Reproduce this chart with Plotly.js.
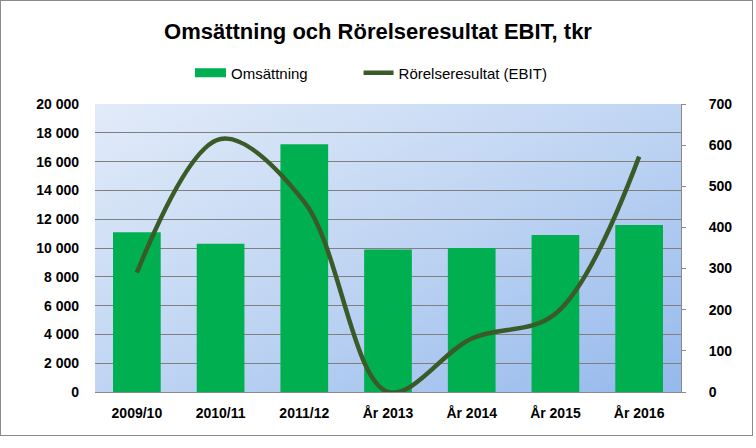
<!DOCTYPE html>
<html>
<head>
<meta charset="utf-8">
<script src="https://cdn.plot.ly/plotly-3.0.1.min.js"></script>
<style>
html,body{margin:0;padding:0;background:#fff;}
#wrap{position:relative;width:756px;height:448px;}
#chart{width:756px;height:448px;}
#frame{position:absolute;left:0;top:0;width:753px;height:436px;border:1px solid #8a8a8a;box-sizing:border-box;pointer-events:none;}
</style>
</head>
<body>
<div id="wrap"><div id="chart"></div><div id="frame"></div></div>
<script>
var categories = ["2009/10", "2010/11", "2011/12", "År 2013", "År 2014", "År 2015", "År 2016"];
var omsattning = [11100, 10300, 17200, 9900, 10000, 10900, 11600];
var ebit = [290, 615, 462, 0, 130, 190, 572];
var leftTicks = [0, 2000, 4000, 6000, 8000, 10000, 12000, 14000, 16000, 18000, 20000];
var rightTicks = [0, 100, 200, 300, 400, 500, 600, 700];

var FONT = '"Liberation Sans", Arial, sans-serif';
var PAD = '\u00a0\u00a0\u00a0\u00a0\u00a0\u00a0\u00a0\u00a0\u00a0\u00a0\u00a0';

var grad = 'data:image/svg+xml;charset=utf-8,' + encodeURIComponent(
  '<svg xmlns="http://www.w3.org/2000/svg" width="100" height="100" preserveAspectRatio="none">' +
  '<defs><linearGradient id="g" x1="0" y1="0" x2="1" y2="1">' +
  '<stop offset="0" stop-color="#e2ebf9"/><stop offset="0.5" stop-color="#c0d5f3"/><stop offset="1" stop-color="#95b9ec"/>' +
  '</linearGradient></defs><rect width="100" height="100" fill="url(#g)"/></svg>');

var traces = [
  {
    type: 'bar', name: 'Omsättning' + PAD, x: categories, y: omsattning,
    marker: {color: '#00b050'}, yaxis: 'y'
  },
  {
    type: 'scatter', mode: 'lines', name: 'Rörelseresultat (EBIT)', x: categories, y: ebit,
    line: {color: '#3a5a28', width: 4.5, shape: 'spline', smoothing: 1}, yaxis: 'y2'
  }
];

var layout = {
  width: 756, height: 448,
  margin: {l: 95, r: 75, t: 104, b: 56},
  paper_bgcolor: 'rgba(0,0,0,0)',
  plot_bgcolor: 'rgba(0,0,0,0)',
  separators: ', ',
  bargap: 0.43,
  showlegend: true,
  title: {
    text: 'Omsättning och Rörelseresultat EBIT, tkr',
    font: {family: FONT, size: 22, color: '#000', weight: 'bold'},
    x: 0.5, xref: 'container', xanchor: 'center',
    y: 1 - 31/448, yref: 'container', yanchor: 'middle'
  },
  legend: {
    orientation: 'h',
    xref: 'container', yref: 'container',
    x: 191/756, xanchor: 'left',
    y: 1 - 73/448, yanchor: 'middle',
    font: {family: FONT, size: 15, color: '#000'},
    bgcolor: 'rgba(0,0,0,0)'
  },
  images: [{
    source: grad, xref: 'paper', yref: 'paper', x: 0, y: 1,
    sizex: 1, sizey: 1, xanchor: 'left', yanchor: 'top',
    sizing: 'stretch', layer: 'below'
  }],
  xaxis: {
    type: 'category',
    tickfont: {family: FONT, size: 14, color: '#000', weight: 'bold'},
    showline: true, linecolor: '#8a8a8a', linewidth: 1,
    ticks: '', showgrid: false, zeroline: false,
    ticklabelstandoff: 8
  },
  yaxis: {
    range: [0, 20000], tickvals: leftTicks, tickformat: ',d',
    tickfont: {family: FONT, size: 14, color: '#000', weight: 'bold'},
    showgrid: true, gridcolor: '#7f7f7f', gridwidth: 1,
    showline: false, zeroline: false, ticks: '',
    ticklabelstandoff: 15
  },
  yaxis2: {
    overlaying: 'y', side: 'right', range: [0, 700], tickvals: rightTicks,
    tickfont: {family: FONT, size: 14, color: '#000', weight: 'bold'},
    showgrid: false, zeroline: false,
    showline: true, linecolor: '#8a8a8a', linewidth: 1,
    ticks: 'outside', ticklen: 4, tickcolor: '#8a8a8a',
    ticklabelstandoff: 20
  }
};

Plotly.newPlot('chart', traces, layout, {staticPlot: true, displayModeBar: false}).then(function (gd) {
  // widen the bar's legend swatch to the reference's flat rectangle
  var items = gd.querySelectorAll('.legend .traces');
  if (items.length) {
    var p = items[0].querySelector('.legendpoints path');
    if (p) p.setAttribute('d', 'M-16,-4.5H15V4.5H-16Z');
  }
});
</script>
</body>
</html>
